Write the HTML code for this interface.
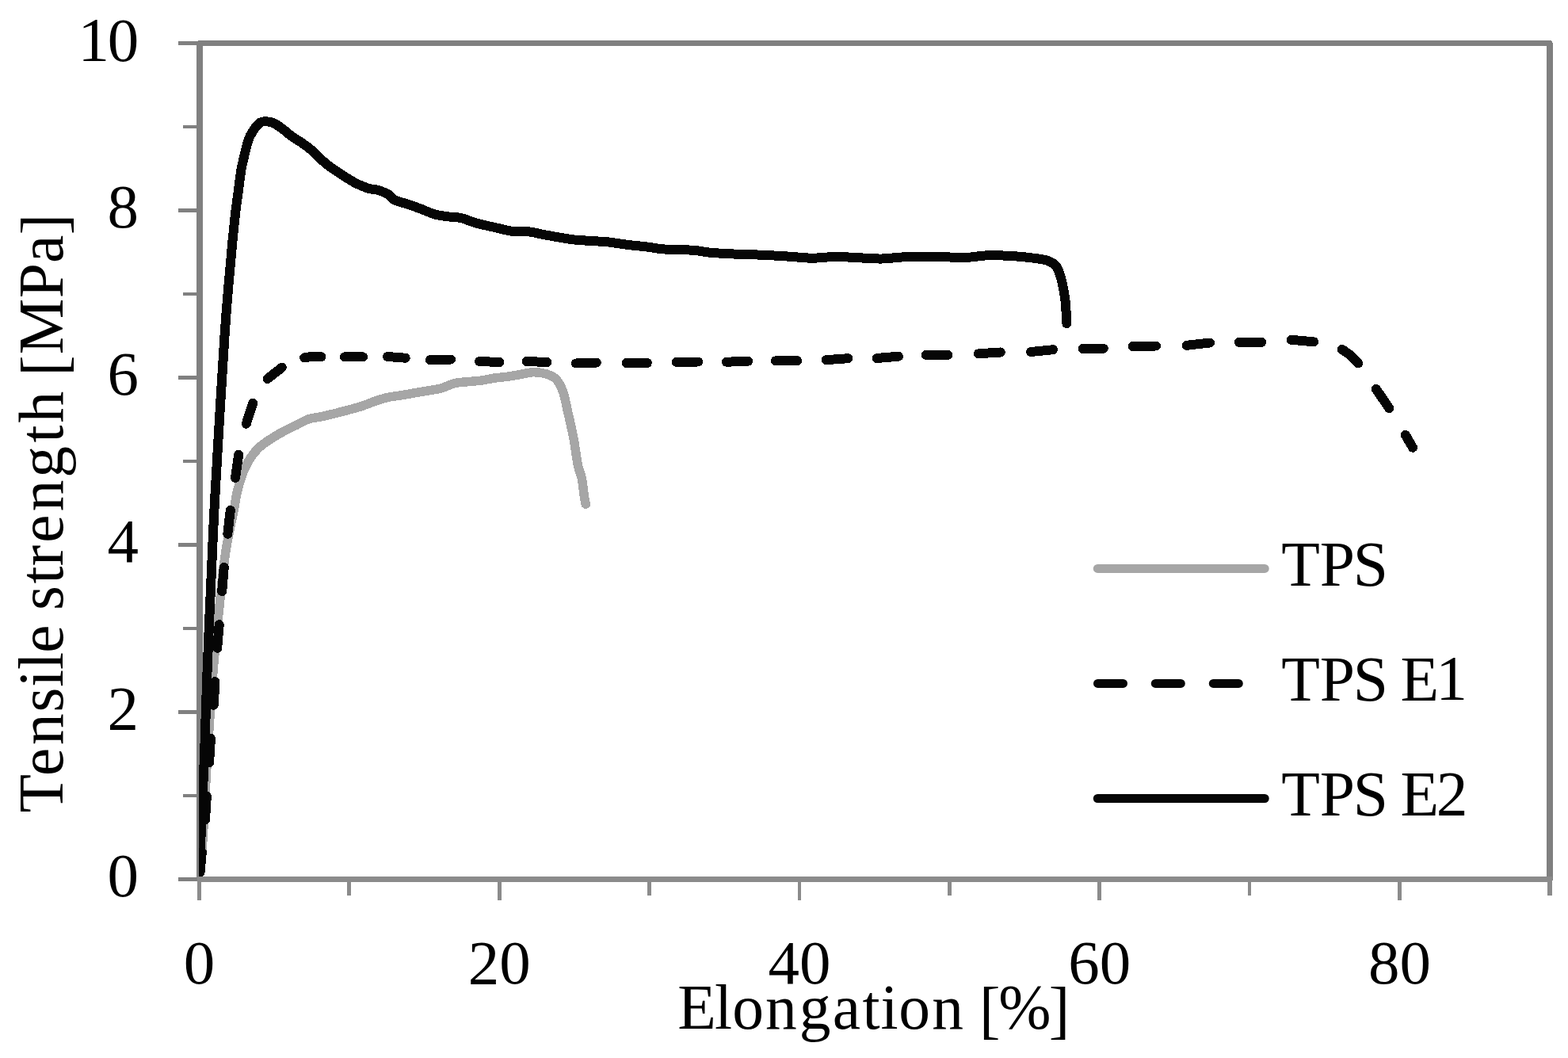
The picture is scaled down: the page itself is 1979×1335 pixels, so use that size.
<!DOCTYPE html>
<html lang="en">
<head>
<meta charset="utf-8">
<title>Tensile strength vs. elongation</title>
<style>html,body{margin:0;padding:0;background:#fff;}body{width:1979px;height:1335px;overflow:hidden;}svg{display:block;}</style>
</head>
<body>
<svg width="1979" height="1335" viewBox="0 0 1979 1335" font-family='"Liberation Serif", "DejaVu Serif", serif' fill="#000">
<rect width="1979" height="1335" fill="#fff"/>
<path fill="#808080" fill-rule="evenodd" shape-rendering="crispEdges" d="M250.1 51 L1957.5 51 L1959.9 54.1 L1959.9 1110.7 L1958.8 1112.7 L249.1 1112.7 L248.1 1111.7 L248.1 53 Z M255.9 57.8 L255.9 1106.2 L1952.1 1106.2 L1952.1 57.8 Z"/>
<g fill="#808080" shape-rendering="crispEdges"><rect x="225" y="1107.1" width="25" height="4.8"/><rect x="230.8" y="1001.61" width="19.2" height="4.8"/><rect x="225" y="896.11" width="25" height="4.8"/><rect x="230.8" y="790.62" width="19.2" height="4.8"/><rect x="225" y="685.12" width="25" height="4.8"/><rect x="230.8" y="579.62" width="19.2" height="4.8"/><rect x="225" y="474.13" width="25" height="4.8"/><rect x="230.8" y="368.63" width="19.2" height="4.8"/><rect x="225" y="263.14" width="25" height="4.8"/><rect x="230.8" y="157.64" width="19.2" height="4.8"/><rect x="225" y="52.15" width="25" height="4.8"/></g>
<g fill="#8b8b8b" shape-rendering="crispEdges"><rect x="249.1" y="1106.2" width="1709.7" height="6.5"/><rect x="249.1" y="1109" width="4.8" height="26.8"/><rect x="438.47" y="1109" width="4.8" height="20.7"/><rect x="627.83" y="1109" width="4.8" height="26.8"/><rect x="817.2" y="1109" width="4.8" height="20.7"/><rect x="1006.57" y="1109" width="4.8" height="26.8"/><rect x="1195.93" y="1109" width="4.8" height="20.7"/><rect x="1385.3" y="1109" width="4.8" height="26.8"/><rect x="1574.67" y="1109" width="4.8" height="20.7"/><rect x="1764.03" y="1109" width="4.8" height="26.8"/><rect x="1953.1" y="1109" width="5.7" height="20.7"/></g>
<defs><clipPath id="pc"><rect x="251.1" y="40" width="1720" height="1066.3"/></clipPath></defs>
<g clip-path="url(#pc)" fill="none" stroke-linecap="round" stroke-linejoin="round" stroke-width="12" shape-rendering="crispEdges">
<path stroke="#a6a6a6" stroke-width="11.5" d="M252.5 1100.5C253.13 1092.75 255.05 1073.53 256.3 1054C257.55 1034.47 258.68 1006.47 260 983.3C261.32 960.13 262.6 938.88 264.2 915C265.8 891.12 267.3 866.67 269.6 840C271.9 813.33 275.43 779.17 278 755C280.57 730.83 282.08 713.88 285 695C287.92 676.12 293.08 654.2 295.5 641.7C297.92 629.2 297.53 627.78 299.5 620C301.47 612.22 304.58 601.95 307.3 595C310.02 588.05 312.57 583.3 315.8 578.3C319.03 573.3 322.67 568.88 326.7 565C330.73 561.12 335 558.33 340 555C345 551.67 351.15 548.05 356.7 545C362.25 541.95 367.75 539.42 373.3 536.7C378.85 533.98 384.43 530.57 390 528.7C395.57 526.83 401.15 526.7 406.7 525.5C412.25 524.3 417.75 522.88 423.3 521.5C428.85 520.12 434.43 518.7 440 517.2C445.57 515.7 451.15 514.33 456.7 512.5C462.25 510.67 467.75 508.07 473.3 506.2C478.85 504.33 484.43 502.53 490 501.3C495.57 500.07 501.15 499.72 506.7 498.8C512.25 497.88 517.75 496.77 523.3 495.8C528.85 494.83 534.43 493.97 540 493C545.57 492.03 551.15 491.55 556.7 490C562.25 488.45 567.75 485.08 573.3 483.7C578.85 482.32 584.43 482.28 590 481.7C595.57 481.12 601.15 480.95 606.7 480.2C612.25 479.45 617.75 478.02 623.3 477.2C628.85 476.38 634.43 476.08 640 475.3C645.57 474.52 651.15 473.43 656.7 472.5C662.25 471.57 667.75 469.78 673.3 469.7C678.85 469.62 685.13 470.42 690 472C694.87 473.58 699.03 475.37 702.5 479.2C705.97 483.03 708.43 488.2 710.8 495C713.17 501.8 714.5 510.28 716.7 520C718.9 529.72 721.9 542.18 724 553.3C726.1 564.42 727.6 578.37 729.3 586.7C731 595.03 732.8 596.37 734.2 603.3C735.6 610.23 736.85 622.8 737.7 628.3C738.55 633.8 739.03 634.97 739.3 636.3"/>
<g stroke="#060606"><polyline points="252.6,1100.5 254.8,1075.2"/><polyline points="259,1034.4 260.8,1004.75"/><polyline points="264,962.5 266,931.8"/><polyline points="269.8,889.8 271.3,860.2"/><polyline points="274.2,817.75 276.7,788.1"/><polyline points="280.2,746.1 282.75,716"/><polyline points="287.3,673.8 290.8,643.9"/><polyline points="297,602.8 301.2,573.8"/><polyline points="310.8,534.7 319.2,508.8"/><polyline points="337.5,478 355.8,463.7"/><polyline points="384.2,451.3 395,449.7 405.5,450.3"/><polyline points="435,450.3 458,450.3"/><polyline points="489.2,450 511.7,451.7"/><polyline points="543,454.2 569,453.5"/><polyline points="605.2,456 630.2,457"/><polyline points="664.7,456 690.2,457"/><polyline points="726.8,458.5 752.8,457.5"/><polyline points="790.7,458 816.8,458"/><polyline points="853.8,456.8 881.2,456.5"/><polyline points="916.8,456.7 944,455.8"/><polyline points="978.8,455.3 1006.2,455.2"/><polyline points="1042.7,454.2 1070.2,452.2"/><polyline points="1106.8,452 1134,449.7"/><polyline points="1168.8,447.9 1196.2,447.9"/><polyline points="1234.8,446.3 1262.8,444.5"/><polyline points="1301,444 1329,441.2"/><polyline points="1366.8,440 1392.8,439.8"/><polyline points="1429.8,437 1459,436.5"/><polyline points="1497.7,435.8 1527,432.5"/><polyline points="1564,431.8 1592,431.8"/><polyline points="1629.7,428.8 1658.2,431.3"/><polyline points="1693.8,440.8 1704.8,448.5 1714.2,458.5"/><polyline points="1736.7,490.8 1753.3,515"/><polyline points="1773.8,548.8 1783,564.7"/></g>
<path stroke="#060606" d="M251.6 1100.5C252.5 1079.58 255.92 999.95 257 975C258.08 950.05 257.3 973.3 258.1 950.8C258.9 928.3 260.4 876.67 261.8 840C263.2 803.33 264.85 767.47 266.5 730.8C268.15 694.13 268.82 671.8 271.7 620C274.57 568.2 280.38 469.72 283.75 420C287.12 370.28 290.21 341.7 291.9 321.7C293.59 301.7 292.98 309.17 293.9 300C294.82 290.83 296.23 276.55 297.4 266.7C298.57 256.85 300.1 247.02 300.9 240.9C301.7 234.78 301.58 234.58 302.2 230C302.82 225.42 303.58 218.95 304.6 213.4C305.62 207.85 306.98 202.27 308.3 196.7C309.62 191.13 311.28 184.17 312.5 180C313.72 175.83 314.07 174.75 315.6 171.7C317.13 168.65 319.57 164.55 321.7 161.7C323.83 158.85 326.03 156.02 328.4 154.6C330.77 153.18 332.98 153.03 335.9 153.2C338.82 153.37 342.38 153.97 345.9 155.6C349.42 157.23 353.22 160.22 357 163C360.78 165.78 364.77 169.53 368.6 172.3C372.43 175.07 376.18 176.98 380 179.6C383.82 182.22 388.4 185.53 391.5 188C394.6 190.47 395.18 191.23 398.6 194.4C402.02 197.57 406.65 202.73 412 207C417.35 211.27 424.65 216.03 430.7 220C436.75 223.97 442.58 227.83 448.3 230.8C454.02 233.77 460.27 236.3 465 237.8C469.73 239.3 472.53 238.55 476.7 239.8C480.87 241.05 486.4 243.18 490 245.3C493.6 247.42 494.13 250.42 498.3 252.5C502.47 254.58 509.43 255.92 515 257.8C520.57 259.68 526.15 261.72 531.7 263.8C537.25 265.88 542.75 268.72 548.3 270.3C553.85 271.88 559.43 272.52 565 273.3C570.57 274.08 575.58 273.6 581.7 275C587.82 276.4 594.2 279.62 601.7 281.7C609.2 283.78 618.93 285.75 626.7 287.5C634.47 289.25 641.37 291.37 648.3 292.2C655.23 293.03 662.18 291.9 668.3 292.5C674.42 293.1 678.05 294.5 685 295.8C691.95 297.1 703.05 299.15 710 300.3C716.95 301.45 719.75 302.03 726.7 302.7C733.65 303.37 744.77 303.83 751.7 304.3C758.63 304.77 761.37 304.72 768.3 305.5C775.23 306.28 784.97 307.97 793.3 309C801.63 310.03 811.35 310.82 818.3 311.7C825.25 312.58 828.05 313.75 835 314.3C841.95 314.85 852.5 314.67 860 315C867.5 315.33 873.88 315.67 880 316.3C886.12 316.93 888.37 318.07 896.7 318.8C905.03 319.53 918.9 320.2 930 320.7C941.1 321.2 952.18 321.3 963.3 321.8C974.42 322.3 986.42 323.05 996.7 323.7C1006.98 324.35 1015.28 325.65 1025 325.7C1034.72 325.75 1044.45 324.03 1055 324C1065.55 323.97 1078.58 325.08 1088.3 325.5C1098.02 325.92 1103.57 326.75 1113.3 326.5C1123.03 326.25 1133.63 324.38 1146.7 324C1159.77 323.62 1180.03 324 1191.7 324.2C1203.37 324.4 1207.27 325.53 1216.7 325.2C1226.13 324.87 1237.2 322.48 1248.3 322.2C1259.4 321.92 1273.3 322.83 1283.3 323.5C1293.3 324.17 1301.9 325.32 1308.3 326.2C1314.7 327.08 1317.67 327.33 1321.7 328.8C1325.73 330.27 1329.73 331.75 1332.5 335C1335.27 338.25 1336.67 343.3 1338.3 348.3C1339.93 353.3 1341.22 359.43 1342.3 365C1343.38 370.57 1344.22 376.15 1344.8 381.7C1345.38 387.25 1345.55 393.88 1345.8 398.3C1346.05 402.72 1346.22 406.55 1346.3 408.2"/>
</g>
<g fill="none" stroke-linecap="round" stroke-width="11">
<line stroke="#a6a6a6" x1="1385.3" y1="717.4" x2="1596.2" y2="717.4"/>
<line stroke="#060606" x1="1385.5" y1="862.4" x2="1417.5" y2="862.4"/>
<line stroke="#060606" x1="1458.3" y1="862.4" x2="1490.3" y2="862.4"/>
<line stroke="#060606" x1="1531.3" y1="862.4" x2="1563.3" y2="862.4"/>
<line stroke="#060606" x1="1385.3" y1="1007.5" x2="1596.2" y2="1007.5"/>
</g>
<text x="1617.31 1665.84 1707.7" y="739.2" font-size="79.5">TPS</text>
<text x="1617.31 1665.84 1707.7 1751.91 1767.45 1812.37" y="884.2 884.2 884.2 884.2 884.2 883.4" font-size="79.5">TPS E1</text>
<text x="1617.31 1665.84 1707.7 1751.91 1767.45 1812.82" y="1029.2" font-size="79.5">TPS E2</text>
<text x="175.1" y="1131.4" font-size="79.0" text-anchor="end">0</text>
<text x="175.1" y="920.41" font-size="79.0" text-anchor="end">2</text>
<text x="175.1" y="709.42" font-size="79.0" text-anchor="end">4</text>
<text x="175.1" y="498.43" font-size="79.0" text-anchor="end">6</text>
<text x="175.1" y="287.44" font-size="79.0" text-anchor="end">8</text>
<text x="98.45 135.68" y="76.05 76.85" font-size="79">10</text>
<text x="251.5" y="1241" font-size="79.0" text-anchor="middle">0</text>
<text x="630.23" y="1241" font-size="79.0" text-anchor="middle">20</text>
<text x="1008.97" y="1241" font-size="79.0" text-anchor="middle">40</text>
<text x="1387.7" y="1241" font-size="79.0" text-anchor="middle">60</text>
<text x="1766.43" y="1241" font-size="79.0" text-anchor="middle">80</text>
<text x="855.35 901.91 924.33 966.11 1008.82 1050.8 1088.45 1111.53 1134.28 1176.31 1216.06 1235.95 1260.29 1323.78" y="1297.5 1297.5 1297.5 1297.5 1297.5 1297.5 1297.5 1297.5 1297.5 1297.5 1297.5 1300.7 1297.5 1300.7" font-size="79.5">Elongation [%]</text>
<g transform="translate(78.5 1022.5) rotate(-90)"><text x="-2.89 43.58 82.56 124.09 155.43 177.61 198.88 234.17 252.59 285.9 308.22 337.68 377.21 419.87 464.05 488.91 528.66 547.65 575.28 646.39 690.45 726.18" y="0 0 0 0 0 0 0 0 0 0 0 0 0 0 0 0 0 3.2 0 0 0 3.2" font-size="79.5">Tensile strength [MPa]</text></g>
</svg>
</body>
</html>
